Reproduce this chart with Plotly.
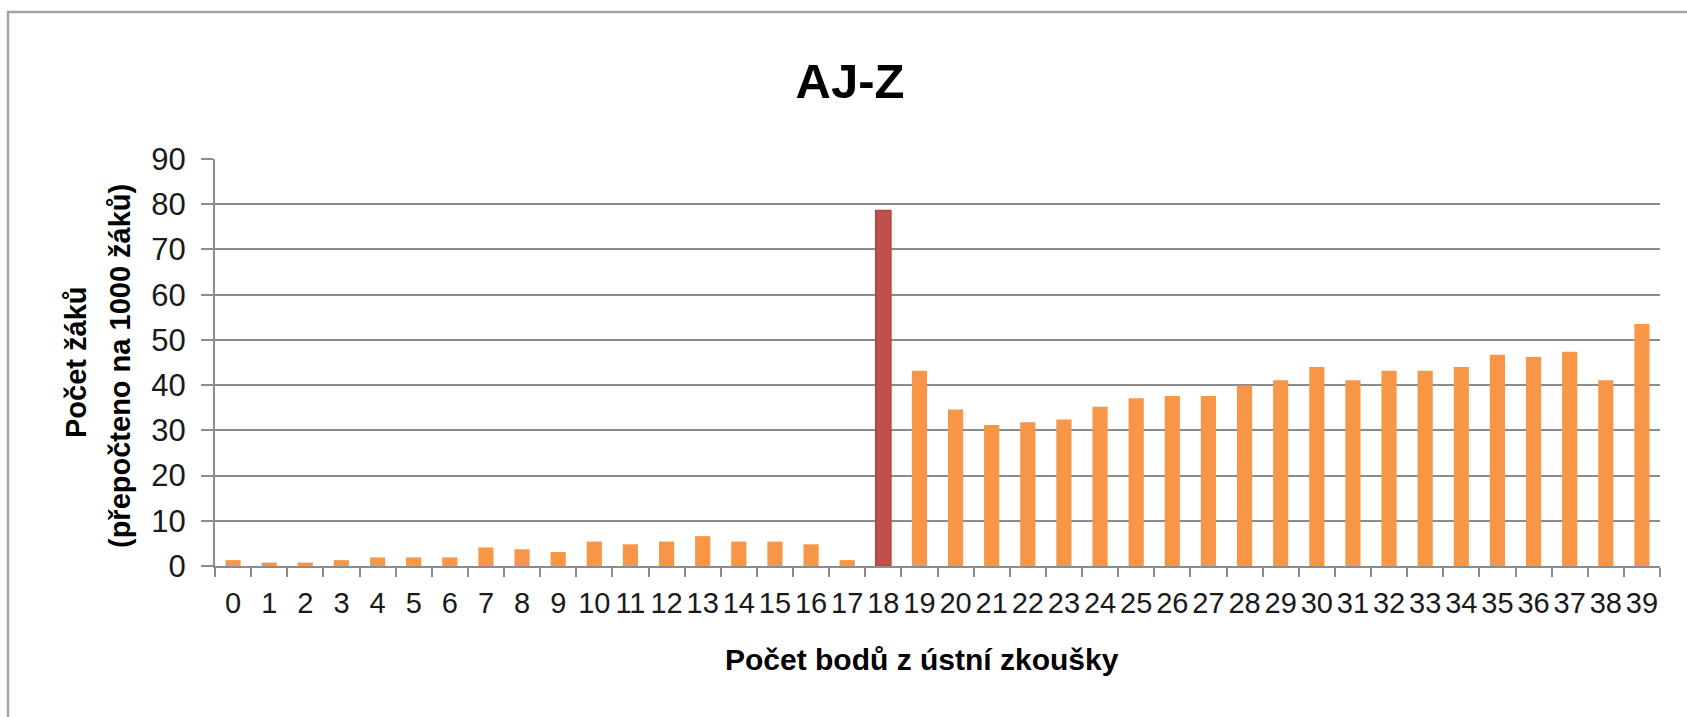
import plotly.graph_objects as go

categories = [str(i) for i in range(40)]
values = [1.3, 0.75, 0.75, 1.3, 1.9, 1.9, 1.9, 4.1, 3.7, 3.1,
          5.4, 4.8, 5.4, 6.6, 5.4, 5.4, 4.8, 1.3, 78.6, 43.2,
          34.6, 31.2, 31.8, 32.4, 35.2, 37.1, 37.6, 37.6, 39.9, 41.1,
          44.0, 41.1, 43.2, 43.2, 44.0, 46.7, 46.2, 47.4, 41.1, 53.5]
highlight = "18"

title_text = "AJ-Z"
x_title = "Počet bodů z ústní zkoušky"
y_title_1 = "Počet žáků"
y_title_2 = "(přepočteno na 1000 žáků)"

ORANGE = "#F79646"
RED = "#C0504D"
colors = [RED if c == highlight else ORANGE for c in categories]
line_colors = ["#B3413E" if c == highlight else ORANGE for c in categories]
line_widths = [1.5 if c == highlight else 0 for c in categories]

FONT = "Liberation Sans"
GRID = "#8C8C8C"

W, H = 1687, 717
L, R, T, B = 215, 27, 159, 151
plot_w = W - L - R
plot_h = H - T - B

def px_to_paper_x(px):
    return (px - L) / plot_w

def px_to_paper_y(py):
    return (H - B - py) / plot_h

fig = go.Figure()
fig.add_trace(go.Bar(
    x=categories, y=values,
    marker=dict(color=colors, line=dict(color=line_colors, width=line_widths)),
    hoverinfo="x+y",
))

fig.update_layout(
    width=W, height=H,
    margin=dict(l=L, r=R, t=T, b=B),
    paper_bgcolor="white", plot_bgcolor="white",
    bargap=0.58,
    showlegend=False,
    title=dict(text=f"<b>{title_text}</b>", x=850 / W, xanchor="center",
               y=1 - 81 / H, yanchor="middle",
               font=dict(family=FONT, size=49, color="black")),
    font=dict(family=FONT, color="#1a1a1a"),
)

fig.update_xaxes(
    type="category",
    showline=True, linecolor=GRID, linewidth=2,
    ticks="outside", tickson="boundaries", ticklen=9, tickcolor=GRID, tickwidth=1.5,
    tickfont=dict(family=FONT, size=29, color="#1a1a1a"),
    tickangle=0,
    ticklabelstandoff=10,
    showgrid=False,
)
fig.update_yaxes(
    range=[0, 90], dtick=10, tick0=0,
    showline=True, linecolor=GRID, linewidth=2,
    showgrid=True, gridcolor=GRID, gridwidth=2,
    ticks="outside", ticklen=12, tickcolor=GRID, tickwidth=2,
    tickfont=dict(family=FONT, size=31, color="#1a1a1a"),
    ticklabelstandoff=9,
    zeroline=False,
)

annotations = [
    dict(text=f"<b>{x_title}</b>", x=px_to_paper_x(922), y=px_to_paper_y(659),
         xref="paper", yref="paper", xanchor="center", yanchor="middle",
         showarrow=False, font=dict(family=FONT, size=30, color="black")),
    dict(text=f"<b>{y_title_1}</b>", x=px_to_paper_x(76), y=px_to_paper_y(362),
         xref="paper", yref="paper", xanchor="center", yanchor="middle",
         textangle=-90, showarrow=False, font=dict(family=FONT, size=29, color="black")),
    dict(text=f"<b>{y_title_2}</b>", x=px_to_paper_x(120), y=px_to_paper_y(366),
         xref="paper", yref="paper", xanchor="center", yanchor="middle",
         textangle=-90, showarrow=False, font=dict(family=FONT, size=29, color="black")),
]
fig.update_layout(annotations=annotations)

fig.add_shape(type="rect", xref="paper", yref="paper",
              x0=px_to_paper_x(8), x1=px_to_paper_x(W + 20),
              y0=px_to_paper_y(H + 20), y1=px_to_paper_y(12),
              line=dict(color="#A6A6A6", width=2.5), fillcolor="rgba(0,0,0,0)",
              layer="below")

fig.write_html("out.html",
               config={"displayModeBar": False},
               post_script="document.body.style.margin='0';document.body.style.overflow='hidden';")
